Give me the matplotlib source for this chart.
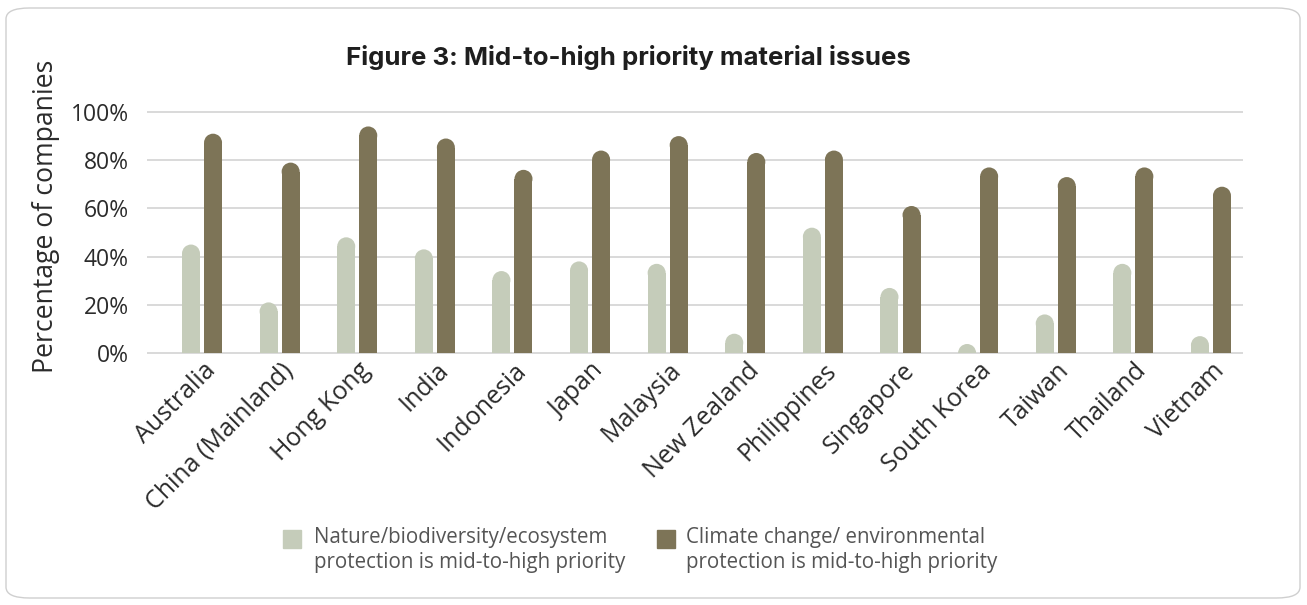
import matplotlib
matplotlib.use("Agg")
import matplotlib.pyplot as plt
from matplotlib.patches import Ellipse, FancyBboxPatch
from matplotlib.transforms import ScaledTranslation
import numpy as np

categories = ["Australia", "China (Mainland)", "Hong Kong", "India", "Indonesia",
              "Japan", "Malaysia", "New Zealand", "Philippines", "Singapore",
              "South Korea", "Taiwan", "Thailand", "Vietnam"]
nature = [45, 21, 48, 43, 34, 38, 37, 8, 52, 27, 3, 16, 37, 7]
climate = [91, 79, 94, 89, 76, 84, 90, 83, 84, 61, 77, 73, 77, 69]
yticks = [0, 20, 40, 60, 80, 100]
ytick_labels = ["0%", "20%", "40%", "60%", "80%", "100%"]
legend_labels = ["Nature/biodiversity/ecosystem\nprotection is mid-to-high priority",
                 "Climate change/ environmental\nprotection is mid-to-high priority"]

light = "#C5CCBA"
dark = "#7D7457"
grid = "#D9D9D9"
text_c = "#2B2B2B"

plt.rcParams["font.family"] = ["Open Sans", "DejaVu Sans"]

W, H = 1307, 605
fig = plt.figure(figsize=(W / 100, H / 100), dpi=100)

# rounded frame around the whole figure
frame = FancyBboxPatch((6 / W, 7 / H), 1294 / W, 590 / H,
                       boxstyle="round,pad=0,rounding_size=0.018",
                       transform=fig.transFigure, fill=False,
                       edgecolor="#CFCFCF", linewidth=1.0)
fig.patches.append(frame)

ax = fig.add_axes([148 / W, 1 - 353 / H, (1242 - 148) / W, (353 - 112) / H])
ax.set_xlim(-0.696, 13.40)
ax.set_ylim(0, 100)
for s in ax.spines.values():
    s.set_visible(False)

for t in yticks:
    ax.axhline(t, color=grid, lw=1.4, zorder=0, clip_on=False)

x = np.arange(len(categories))
bw = 0.232
off = 0.142

# radius of the rounded top, converted from x-data to y-data units
fig.canvas.draw()
p0 = ax.transData.transform((0, 0))
p1 = ax.transData.transform((bw, 1))
px_w = p1[0] - p0[0]
px_per_y = p1[1] - p0[1]
r_y = (px_w / 2) / px_per_y

for xs, vals, col in [(x - off, nature, light), (x + off, climate, dark)]:
    bodies = np.maximum(np.array(vals, float) - r_y, 0)
    ax.bar(xs, bodies, width=bw, color=col, linewidth=0, zorder=2)
    for xi, v in zip(xs, vals):
        ax.add_patch(Ellipse((xi, max(v - r_y, 0)), bw, 2 * r_y,
                             facecolor=col, edgecolor="none", zorder=2))

ax.set_yticks(yticks)
ax.set_yticklabels(ytick_labels, fontsize=16.5, color=text_c)
ax.tick_params(axis="y", length=0, pad=14)
ax.set_xticks(x)
ax.set_xticklabels(categories, rotation=45, ha="right", va="center",
                   rotation_mode="anchor", fontsize=18, color=text_c)
ax.tick_params(axis="x", length=0, pad=10)
shift = ScaledTranslation(10 / 100, 0, fig.dpi_scale_trans)
for lab in ax.get_xticklabels():
    lab.set_transform(lab.get_transform() + shift)

fig.text(46 / W, 1 - 216 / H, "Percentage of companies", rotation=90,
         ha="center", va="center", fontsize=19.2, color=text_c)
fig.text(628 / W, 1 - 57 / H, "Figure 3: Mid-to-high priority material issues",
         ha="center", va="center", fontsize=18.6, fontweight="bold",
         color="#1E1E1E", family=["Inter", "DejaVu Sans"])

# legend
for sx, tx, col, lab in [(291.5, 314, light, legend_labels[0]),
                         (666, 686, dark, legend_labels[1])]:
    fig.patches.append(plt.Rectangle(((sx - 9) / W, 1 - 547.5 / H), 18 / W, 18 / H,
                                     transform=fig.transFigure, color=col))
    fig.text(tx / W, 1 - 550 / H, lab, ha="left", va="center", fontsize=14.8,
             color="#555555", linespacing=1.2)

fig.savefig("out.png", dpi=100)
